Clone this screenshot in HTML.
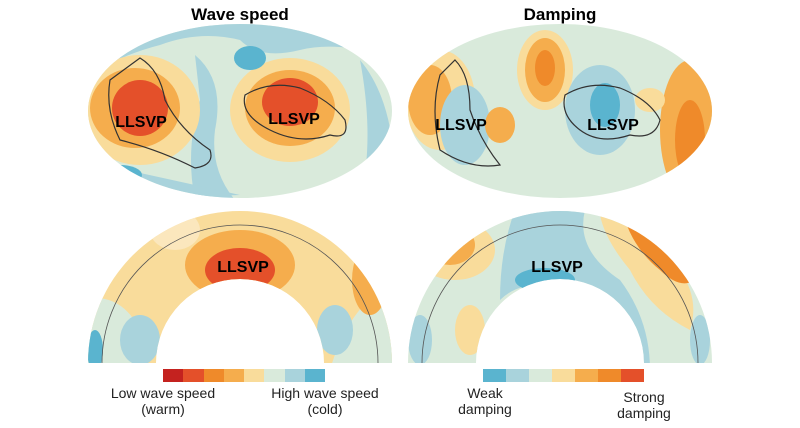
<!DOCTYPE html>
<html><head><style>
html,body{margin:0;padding:0;background:#fff;overflow:hidden;width:800px;height:428px;}
svg{display:block;font-family:"Liberation Sans",sans-serif;}
</style></head><body>
<svg width="800" height="428" viewBox="0 0 800 428">
<defs>
<clipPath id="m1"><ellipse cx="240" cy="111" rx="152" ry="87"/></clipPath>
<clipPath id="m2"><ellipse cx="560" cy="111" rx="152" ry="87"/></clipPath>
<clipPath id="a1"><path d="M88 363 A152 152 0 0 1 392 363 L324 363 A84 84 0 0 0 156 363 Z"/></clipPath>
<clipPath id="a2"><path d="M408 363 A152 152 0 0 1 712 363 L644 363 A84 84 0 0 0 476 363 Z"/></clipPath>
</defs>
<text x="240" y="20" text-anchor="middle" font-size="17" font-weight="bold">Wave speed</text>
<text x="560" y="20" text-anchor="middle" font-size="17" font-weight="bold">Damping</text>

<g clip-path="url(#m1)">
<rect x="80" y="20" width="320" height="190" fill="#d9eadb"/>
<path d="M80 20 L400 20 L400 60 Q340 40 300 50 Q260 60 240 40 Q200 30 160 45 Q120 55 80 80Z" fill="#a9d3dc"/>
<path d="M195 55 Q225 80 215 130 Q210 170 235 200 L195 200 Q185 150 200 100 Z" fill="#a9d3dc"/>
<path d="M360 60 Q385 90 392 140 L392 200 L360 200 Q375 140 360 60Z" fill="#a9d3dc"/>
<path d="M80 160 Q150 175 240 195 L80 200Z" fill="#a9d3dc"/>
<ellipse cx="140" cy="110" rx="60" ry="55" fill="#f9dc9b"/>
<ellipse cx="135" cy="108" rx="45" ry="40" fill="#f5ad4d"/>
<ellipse cx="140" cy="108" rx="28" ry="28" fill="#e4502a"/>
<ellipse cx="290" cy="110" rx="60" ry="52" fill="#f9dc9b"/>
<ellipse cx="290" cy="108" rx="45" ry="38" fill="#f5ad4d"/>
<ellipse cx="290" cy="102" rx="28" ry="24" fill="#e4502a"/>
<ellipse cx="250" cy="58" rx="16" ry="12" fill="#5ab4cf"/>
<ellipse cx="120" cy="175" rx="22" ry="10" fill="#5ab4cf"/>
<path d="M140 58 Q160 70 165 100 Q180 130 210 150 Q215 165 195 168 Q160 150 120 140 Q105 110 110 80 Z" fill="none" stroke="#333" stroke-width="1.2"/>
<path d="M245 95 Q270 80 300 88 Q330 100 345 120 Q350 140 330 135 Q300 145 270 130 Q240 115 245 95Z" fill="none" stroke="#333" stroke-width="1.2"/>
</g>
<text x="141" y="127" text-anchor="middle" font-size="16" font-weight="bold">LLSVP</text>
<text x="294" y="124" text-anchor="middle" font-size="16" font-weight="bold">LLSVP</text>

<g clip-path="url(#m2)">
<rect x="400" y="20" width="320" height="190" fill="#d9eadb"/>
<ellipse cx="440" cy="100" rx="35" ry="50" fill="#f9dc9b"/>
<ellipse cx="430" cy="100" rx="22" ry="35" fill="#f5ad4d"/>
<ellipse cx="545" cy="70" rx="28" ry="40" fill="#f9dc9b"/>
<ellipse cx="545" cy="70" rx="20" ry="32" fill="#f5ad4d"/>
<ellipse cx="545" cy="68" rx="10" ry="18" fill="#ef8a2a"/>
<ellipse cx="600" cy="110" rx="35" ry="45" fill="#a9d3dc"/>
<ellipse cx="605" cy="105" rx="15" ry="22" fill="#5ab4cf"/>
<ellipse cx="465" cy="125" rx="25" ry="40" fill="#a9d3dc"/>
<ellipse cx="500" cy="125" rx="15" ry="18" fill="#f5ad4d"/>
<ellipse cx="690" cy="130" rx="30" ry="70" fill="#f5ad4d"/>
<ellipse cx="690" cy="140" rx="15" ry="40" fill="#ef8a2a"/>
<ellipse cx="650" cy="100" rx="15" ry="12" fill="#f9dc9b"/>
<path d="M455 60 Q470 75 470 110 Q480 140 500 165 Q470 170 440 150 Q430 110 440 75 Z" fill="none" stroke="#333" stroke-width="1.2"/>
<path d="M565 95 Q590 80 620 88 Q650 100 660 120 Q655 140 630 135 Q600 145 580 130 Q560 115 565 95Z" fill="none" stroke="#333" stroke-width="1.2"/>
</g>
<text x="461" y="130" text-anchor="middle" font-size="16" font-weight="bold">LLSVP</text>
<text x="613" y="130" text-anchor="middle" font-size="16" font-weight="bold">LLSVP</text>

<g clip-path="url(#a1)">
<rect x="80" y="200" width="320" height="170" fill="#f9dc9b"/>
<path d="M80 300 Q120 290 140 330 L150 370 L80 370Z" fill="#d9eadb"/>
<ellipse cx="140" cy="340" rx="20" ry="25" fill="#a9d3dc"/>
<path d="M400 280 Q350 300 330 370 L400 370Z" fill="#d9eadb"/>
<ellipse cx="335" cy="330" rx="18" ry="25" fill="#a9d3dc"/>
<ellipse cx="175" cy="230" rx="25" ry="20" fill="#fbe7bd"/>
<ellipse cx="240" cy="265" rx="55" ry="35" fill="#f5ad4d"/>
<ellipse cx="240" cy="270" rx="35" ry="22" fill="#e4502a"/>
<ellipse cx="370" cy="280" rx="18" ry="35" fill="#f5ad4d"/>
<ellipse cx="95" cy="350" rx="8" ry="20" fill="#5ab4cf"/>
<circle cx="240" cy="363" r="138" fill="none" stroke="#555" stroke-width="0.8"/>
</g>
<text x="243" y="272" text-anchor="middle" font-size="16" font-weight="bold">LLSVP</text>

<g clip-path="url(#a2)">
<rect x="400" y="200" width="320" height="170" fill="#d9eadb"/>
<path d="M515 210 L585 210 Q575 250 620 280 Q650 320 650 370 L620 370 Q600 300 560 285 Q520 280 500 300 Q500 250 515 210Z" fill="#a9d3dc"/>
<ellipse cx="545" cy="280" rx="30" ry="12" fill="#5ab4cf"/>
<ellipse cx="455" cy="250" rx="40" ry="30" fill="#f9dc9b"/>
<ellipse cx="450" cy="245" rx="25" ry="20" fill="#f5ad4d"/>
<path d="M600 215 Q640 220 680 270 Q700 300 690 330 Q650 310 630 270 Q605 240 600 215Z" fill="#f9dc9b"/>
<path d="M625 220 Q665 230 695 280 Q680 290 660 270 Q635 250 625 220Z" fill="#ef8a2a"/>
<path d="M645 225 Q680 240 700 275 Q685 270 670 255 Q650 240 645 225Z" fill="#e4502a"/>
<ellipse cx="470" cy="330" rx="15" ry="25" fill="#f9dc9b"/>
<ellipse cx="420" cy="340" rx="12" ry="25" fill="#a9d3dc"/>
<ellipse cx="700" cy="340" rx="10" ry="25" fill="#a9d3dc"/>
<circle cx="560" cy="363" r="138" fill="none" stroke="#555" stroke-width="0.8"/>
</g>
<text x="557" y="272" text-anchor="middle" font-size="16" font-weight="bold">LLSVP</text>

<g transform="translate(163,369)">
<rect x="0" y="0" width="20" height="13" fill="#c4221f"/>
<rect x="20" y="0" width="21" height="13" fill="#e4502a"/>
<rect x="41" y="0" width="20" height="13" fill="#ef8a2a"/>
<rect x="61" y="0" width="20" height="13" fill="#f5ad4d"/>
<rect x="81" y="0" width="20" height="13" fill="#f9dc9b"/>
<rect x="101" y="0" width="21" height="13" fill="#d9eadb"/>
<rect x="122" y="0" width="20" height="13" fill="#a9d3dc"/>
<rect x="142" y="0" width="20" height="13" fill="#5ab4cf"/>
</g>
<g transform="translate(483,369)">
<rect x="0" y="0" width="23" height="13" fill="#5ab4cf"/>
<rect x="23" y="0" width="23" height="13" fill="#a9d3dc"/>
<rect x="46" y="0" width="23" height="13" fill="#d9eadb"/>
<rect x="69" y="0" width="23" height="13" fill="#f9dc9b"/>
<rect x="92" y="0" width="23" height="13" fill="#f5ad4d"/>
<rect x="115" y="0" width="23" height="13" fill="#ef8a2a"/>
<rect x="138" y="0" width="23" height="13" fill="#e4502a"/>
</g>
<g font-size="14" fill="#222" text-anchor="middle">
<text x="163" y="398">Low wave speed</text>
<text x="163" y="414">(warm)</text>
<text x="325" y="398">High wave speed</text>
<text x="325" y="414">(cold)</text>
<text x="485" y="398">Weak</text>
<text x="485" y="414">damping</text>
<text x="644" y="402">Strong</text>
<text x="644" y="418">damping</text>
</g>
</svg>
</body></html>
